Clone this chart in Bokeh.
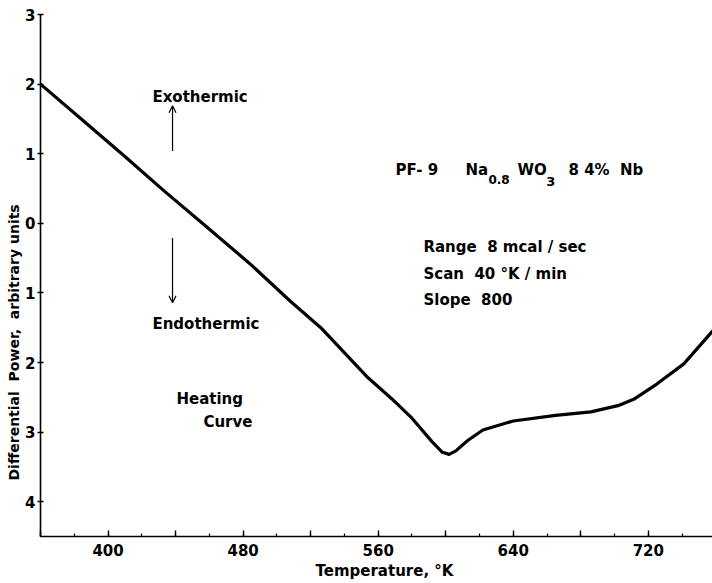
import math
from bokeh.plotting import figure
from bokeh.models import (Label, Arrow, OpenHead, SingleIntervalTicker,
                          CustomJSTickFormatter, Range1d, Title)
from bokeh.embed import file_html
from bokeh.resources import INLINE

# ---- data ----
temperature_K = [360, 385, 410, 433, 455, 484, 508, 526, 554, 568, 580, 592,
                 598, 602, 606, 613, 622, 640, 665, 686, 702, 712, 725, 741, 758]
diff_power = [2.00, 1.48, 0.96, 0.47, 0.02, -0.58, -1.12, -1.50, -2.22, -2.52,
              -2.80, -3.14, -3.29, -3.32, -3.27, -3.12, -2.97, -2.84, -2.76,
              -2.71, -2.62, -2.52, -2.31, -2.02, -1.55]
x_tick_labels = [400, 480, 560, 640, 720]
y_ticks = [3, 2, 1, 0, -1, -2, -3, -4]

FONT = "DejaVu Sans"
NB = "\u00a0"

p = figure(width=712, height=583, output_backend="svg", toolbar_location=None,
           x_range=Range1d(360, 758), y_range=Range1d(-4.5, 3.0),
           min_border_left=40, min_border_right=0, min_border_top=14,
           min_border_bottom=47)
p.outline_line_color = None
p.grid.visible = False
p.background_fill_color = "white"

p.line(temperature_K, diff_power, line_width=3.2, line_color="black",
       line_join="round", line_cap="round")

# x axis
xa = p.xaxis[0]
xa.ticker = SingleIntervalTicker(interval=40, num_minor_ticks=2)
xa.formatter = CustomJSTickFormatter(
    args=dict(labs=x_tick_labels),
    code="return labs.indexOf(Math.round(tick)) >= 0 ? tick.toFixed(0) : '';")
xa.major_tick_in = 6
xa.major_tick_out = 0
xa.minor_tick_in = 3
xa.minor_tick_out = 0
xa.axis_line_width = 1.6
xa.major_tick_line_width = 1.4
xa.minor_tick_line_width = 1.2
xa.major_label_standoff = 7
xa.major_label_text_font = FONT
xa.major_label_text_font_style = "bold"
xa.major_label_text_font_size = "15px"
xa.major_label_text_color = "black"

# y axis
ya = p.yaxis[0]
ya.ticker = SingleIntervalTicker(interval=1, num_minor_ticks=0)
ya.formatter = CustomJSTickFormatter(code="return Math.abs(Math.round(tick)).toFixed(0);")
ya.major_tick_in = 3
ya.major_tick_out = 3
ya.minor_tick_line_color = None
ya.axis_line_width = 1.6
ya.major_tick_line_width = 1.4
ya.major_label_standoff = 2
ya.major_label_text_font = FONT
ya.major_label_text_font_style = "bold"
ya.major_label_text_font_size = "15px"
ya.major_label_text_color = "black"

# axis titles as side titles (positioned with offsets)
ytitle = Title(text="Differential" + NB * 2 + "Power," + NB * 2 + "arbitrary" + NB + "units",
               align="left", offset=56, standoff=2,
               text_font=FONT, text_font_style="bold", text_font_size="14px",
               text_color="black")
p.add_layout(ytitle, "left")
xtitle = Title(text="Temperature," + NB + "\u00b0K", align="left", offset=275,
               standoff=2, text_font=FONT, text_font_style="bold",
               text_font_size="15px", text_color="black")
p.add_layout(xtitle, "below")


def lab(x, y, text, size="15px", angle=0.0):
    p.add_layout(Label(x=x, y=y, text=text, text_font=FONT,
                       text_font_style="bold", text_font_size=size,
                       text_color="black", text_align="left",
                       text_baseline="alphabetic", angle=angle))


# annotations
lab(426.3, 1.81, "Exothermic")
lab(426.3, -1.44, "Endothermic")
lab(440.5, -2.53, "Heating")
lab(456.5, -2.86, "Curve")

lab(570.3, 0.76, "PF-" + NB + "9")
lab(611.7, 0.76, "Na")
lab(625.3, 0.63, "0.8", size="12px")
lab(642.5, 0.76, "WO")
lab(659.5, 0.60, "3", size="13px")
lab(672.7, 0.76, "8" + NB + "4%" + NB + NB + "Nb")

lab(586.8, -0.335, "Range" + NB * 2 + "8" + NB + "mcal" + NB + "/" + NB + "sec")
lab(586.8, -0.722, "Scan" + NB * 2 + "40" + NB + "\u00b0K" + NB + "/" + NB + "min")
lab(586.8, -1.096, "Slope" + NB * 2 + "800")

p.add_layout(Arrow(end=OpenHead(size=7, line_width=1.2, line_color="black"),
                   x_start=438.2, y_start=1.04, x_end=438.2, y_end=1.69,
                   line_width=1.2, line_color="black"))
p.add_layout(Arrow(end=OpenHead(size=7, line_width=1.2, line_color="black"),
                   x_start=438.2, y_start=-0.21, x_end=438.2, y_end=-1.14,
                   line_width=1.2, line_color="black"))

open("out.html", "w").write(file_html(p, INLINE))
